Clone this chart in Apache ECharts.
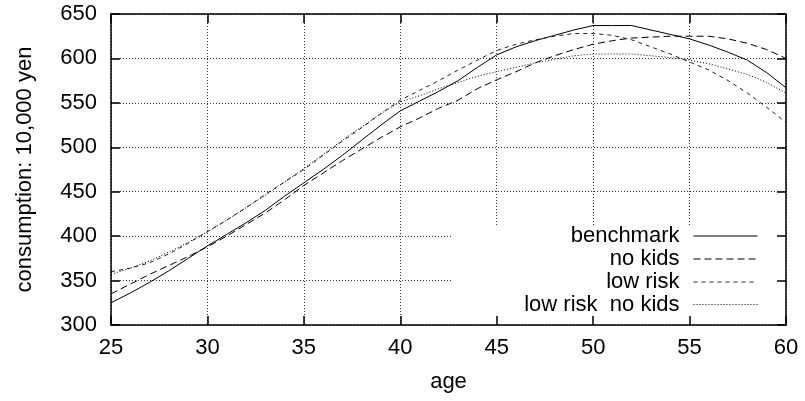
<!DOCTYPE html>
<html>
<head>
<meta charset="utf-8">
<script src="https://cdn.jsdelivr.net/npm/echarts@6/dist/echarts.min.js"></script>
<style>html,body{margin:0;padding:0;background:#fff}#c{width:805px;height:401px}</style>
</head>
<body>
<div id="c"></div>
<script>
const ages = [25,26,27,28,29,30,31,32,33,34,35,36,37,38,39,40,41,42,43,44,45,46,47,48,49,50,51,52,53,54,55,56,57,58,59,60];
const benchmark = [325,336,348,361,375,389,402,415,429,445,460,475,491,508,525,541,552,563,575,590,604,613,620,626,632,637,637,637,632,627,622,615,607,598,584,567];
const noKids = [335,346,357,367,377,388,400,413,426,441,457,471,485,498,511,523,533,544,553,566,576,585,595,603,610,616,620,623,624,625,625,625,622,617,610,600];
const lowRisk = [360,364,370,380,392,405,418,432,447,461,475,491,507,522,538,553,564,575,587,598,609,616,621,625,628,628,626,621,613,605,596,587,575,561,545,528];
const lowRiskNoKids = [357,364,372,382,393,405,418,432,446,461,476,492,508,523,538,551,558,566,573,580,585,590,595,599,603,605,605,605,603,601,598,594,588,582,573,561];
const seriesNames = ['benchmark','no kids','low risk','low risk  no kids'];
const xTicks = {min:25, max:60, step:5};
const yTicks = {min:300, max:650, step:50};
const xTitle = 'age';
const yTitle = 'consumption: 10,000 yen';

const FONT = 'Liberation Sans, Arial, sans-serif';
const pairs = arr => ages.map((a,i)=>[a,arr[i]]);
const styles = [
  {type:'solid', color:'#000'},
  {type:[7,4], color:'#000'},
  {type:[4,4], color:'#222'},
  {type:[1,2], color:'#000'}
];
const allData = [benchmark, noKids, lowRisk, lowRiskNoKids];

const chart = echarts.init(document.getElementById('c'), null, {renderer:'canvas'});
const gridBox = {left:111, right:19, top:14, bottom:76, containLabel:false, outerBoundsMode:'none'};
const frameLine = {show:true, lineStyle:{color:'#000', width:1.5}};
const tick = {show:true, inside:true, length:9, lineStyle:{color:'#000', width:1.5}};
const gridStyle = {show:true, lineStyle:{color:'#000', width:1, type:[1,2], opacity:0.8}};
const legendCenters = [236, 259, 282, 304.5];

chart.setOption({
  animation:false,
  backgroundColor:'#fff',
  grid: gridBox,
  xAxis: [
    {type:'value', min:xTicks.min, max:xTicks.max, interval:xTicks.step, position:'bottom', z:5,
     axisLine:frameLine, axisTick:tick, splitLine:{show:false},
     axisLabel:{color:'#000', fontFamily:FONT, fontSize:22, margin:12},
     name:xTitle, nameLocation:'middle', nameGap:46,
     nameTextStyle:{color:'#000', fontFamily:FONT, fontSize:22}},
    {type:'value', min:xTicks.min, max:xTicks.max, interval:xTicks.step, position:'top', z:5,
     axisLine:frameLine, axisTick:tick, axisLabel:{show:false}, splitLine:{show:false}},
    {type:'value', min:xTicks.min, max:xTicks.max, interval:xTicks.step, position:'bottom', z:0,
     axisLine:{show:false}, axisTick:{show:false}, axisLabel:{show:false}, splitLine:gridStyle}
  ],
  yAxis: [
    {type:'value', min:yTicks.min, max:yTicks.max, interval:yTicks.step, position:'left', z:5,
     axisLine:frameLine, axisTick:tick, splitLine:{show:false},
     axisLabel:{color:'#000', fontFamily:FONT, fontSize:22, margin:14},
     name:yTitle, nameLocation:'middle', nameGap:75, nameRotate:90,
     nameTextStyle:{color:'#000', fontFamily:FONT, fontSize:22}},
    {type:'value', min:yTicks.min, max:yTicks.max, interval:yTicks.step, position:'right', z:5,
     axisLine:frameLine, axisTick:tick, axisLabel:{show:false}, splitLine:{show:false}},
    {type:'value', min:yTicks.min, max:yTicks.max, interval:yTicks.step, position:'left', z:0,
     axisLine:{show:false}, axisTick:{show:false}, axisLabel:{show:false}, splitLine:gridStyle}
  ],
  graphic: [
    {type:'rect', shape:{x:452, y:225, width:333, height:99}, style:{fill:'#fff'}, z:1, silent:true}
  ],
  legend: seriesNames.map((n,i)=>({
    data:[n], orient:'horizontal', right:42, top:legendCenters[i]-11-5,
    align:'right', itemWidth:64, itemHeight:22, itemGap:0,
    itemStyle:{opacity:0},
    lineStyle:{width:1},
    textStyle:{color:'#000', fontFamily:FONT, fontSize:22, padding:[0,9,0,0], lineHeight:22},
    selectedMode:false, z:6
  })),
  series: seriesNames.map((n,i)=>({
    name:n, type:'line', data:pairs(allData[i]), symbol:'none', smooth:false, z:3,
    xAxisIndex:0, yAxisIndex:0,
    lineStyle:{color:styles[i].color, width:1, type:styles[i].type},
    itemStyle:{color:styles[i].color}
  }))
});
</script>
</body>
</html>
